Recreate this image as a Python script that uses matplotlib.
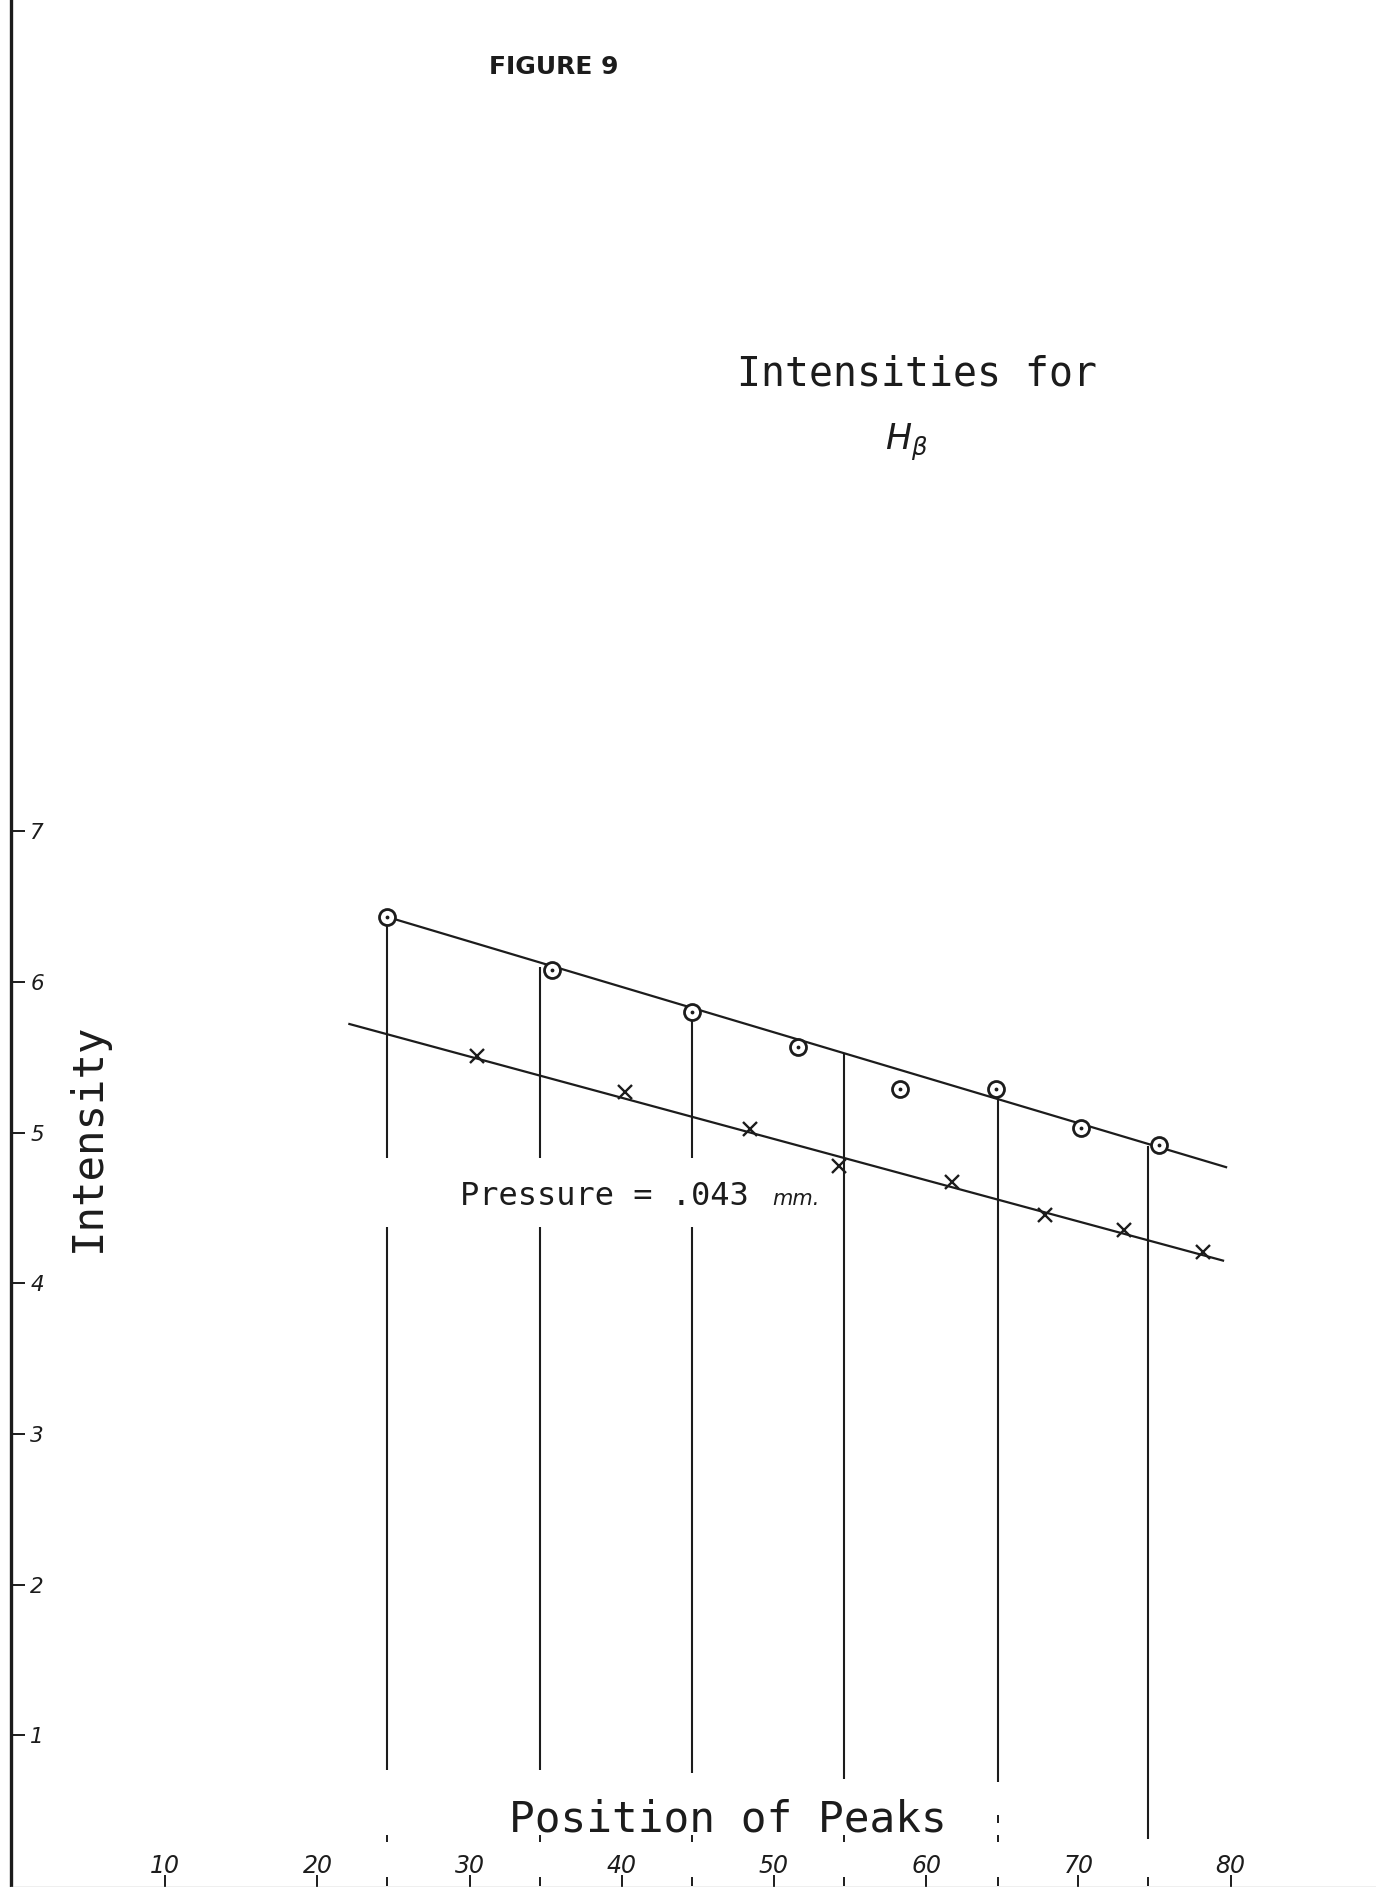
import matplotlib.pyplot as plt

# values (x = position of peak, y = intensity)
circle_x = [24.6, 35.4, 44.6, 51.6, 58.3, 64.6, 70.2, 75.3]
circle_y = [6.43, 6.08, 5.80, 5.57, 5.29, 5.29, 5.03, 4.92]
cross_x = [30.5, 40.2, 48.4, 54.3, 61.7, 67.8, 73.0, 78.2]
cross_y = [5.51, 5.27, 5.02, 4.78, 4.67, 4.45, 4.35, 4.21]

# the two ruled straight lines
upper_x = [24.6, 79.7]
upper_y = [6.43, 4.77]
lower_x = [22.1, 79.5]
lower_y = [5.72, 4.15]

# vertical peak lines: top, where the long stroke stops, short dashes below
peak_x = [24.6, 34.6, 44.6, 54.6, 64.7, 74.6]
peak_top = [6.43, 6.10, 5.80, 5.53, 5.24, 4.91]
peak_end = [0.77, 0.77, 0.75, 0.71, 0.69, 0.31]
peak_gap = [(4.37, 4.83), (4.37, 4.83), (4.37, 4.83), None, None, None]
peak_dashes = [
    [(0.29, 0.34), (0.0, 0.06)],
    [(0.29, 0.34), (0.0, 0.06)],
    [(0.29, 0.34), (0.0, 0.06)],
    [(0.29, 0.34), (0.0, 0.06)],
    [(0.42, 0.47), (0.29, 0.34), (0.0, 0.06)],
    [(0.0, 0.06)],
]

x_ticks = [10, 20, 30, 40, 50, 60, 70, 80]
y_ticks = [1, 2, 3, 4, 5, 6, 7]

ink = '#1c1c1c'
mono = ['DejaVu Sans Mono', 'DejaVu Sans']

fig = plt.figure(figsize=(13.76, 18.87), dpi=100)
ax = fig.add_axes([10.7 / 1376, 0, 1 - 10.7 / 1376, 1])
ax.set_xlim(-0.151, 89.55)
ax.set_ylim(-0.0066, 12.515)

# vertical lines
for i, x in enumerate(peak_x):
    if peak_gap[i] is None:
        ax.vlines(x, peak_end[i], peak_top[i], color=ink, lw=1.5)
    else:
        lo, hi = peak_gap[i]
        ax.vlines(x, hi, peak_top[i], color=ink, lw=1.5)
        ax.vlines(x, peak_end[i], lo, color=ink, lw=1.5)
    for a, b in peak_dashes[i]:
        ax.vlines(x, a, b, color=ink, lw=1.4)

ax.plot(upper_x, upper_y, color=ink, lw=1.6)
ax.plot(lower_x, lower_y, color=ink, lw=1.6)

ax.plot(circle_x, circle_y, 'o', ms=11.5, mfc='white', mec=ink, mew=2.0, zorder=4)
ax.plot(circle_x, circle_y, '.', ms=3.5, color=ink, zorder=5)
ax.plot(cross_x, cross_y, 'x', ms=10.5, mew=1.7, color=ink, zorder=4)

ax.text(29.4, 4.52, 'Pressure = .043', family=mono, fontsize=23,
        color=ink, ha='left', va='baseline')
ax.text(49.9, 4.52, 'mm.', fontsize=15, style='italic',
        color=ink, ha='left', va='baseline')

# axes
for s in ['top', 'right']:
    ax.spines[s].set_visible(False)
ax.spines['left'].set_linewidth(2.4)
ax.spines['left'].set_color(ink)
ax.spines['bottom'].set_color('#b0b0b0')
ax.spines['bottom'].set_linewidth(1)

ax.set_xticks(x_ticks)
ax.set_xticklabels([str(t) for t in x_ticks], fontsize=17, style='italic')
ax.set_yticks(y_ticks)
ax.set_yticklabels([str(t) for t in y_ticks], fontsize=15.5, style='italic')
ax.tick_params(axis='x', direction='in', length=8.5, width=1.4, pad=-24, colors=ink)
ax.tick_params(axis='y', direction='in', length=10, width=1.4, pad=-24, colors=ink)

ax.text(4.9, 4.97, 'Intensity', family=mono, fontsize=30.5, rotation=90,
        color=ink, ha='center', va='center')
ax.text(47.0, 0.36, 'Position of Peaks', family=mono, fontsize=30.8,
        color=ink, ha='center', va='baseline')

fig.text(554 / 1376, 1 - 67 / 1887, 'FIGURE 9', fontsize=18, fontweight='bold',
         color=ink, ha='center', va='center')
fig.text(917 / 1376, 1 - 385 / 1887, 'Intensities for', family=mono, fontsize=28.7,
         color=ink, ha='center', va='baseline')
fig.text(906 / 1376, 1 - 450 / 1887, r'$H_\beta$', fontsize=25,
         color=ink, ha='center', va='baseline')

fig.savefig('out.png', dpi=100)
